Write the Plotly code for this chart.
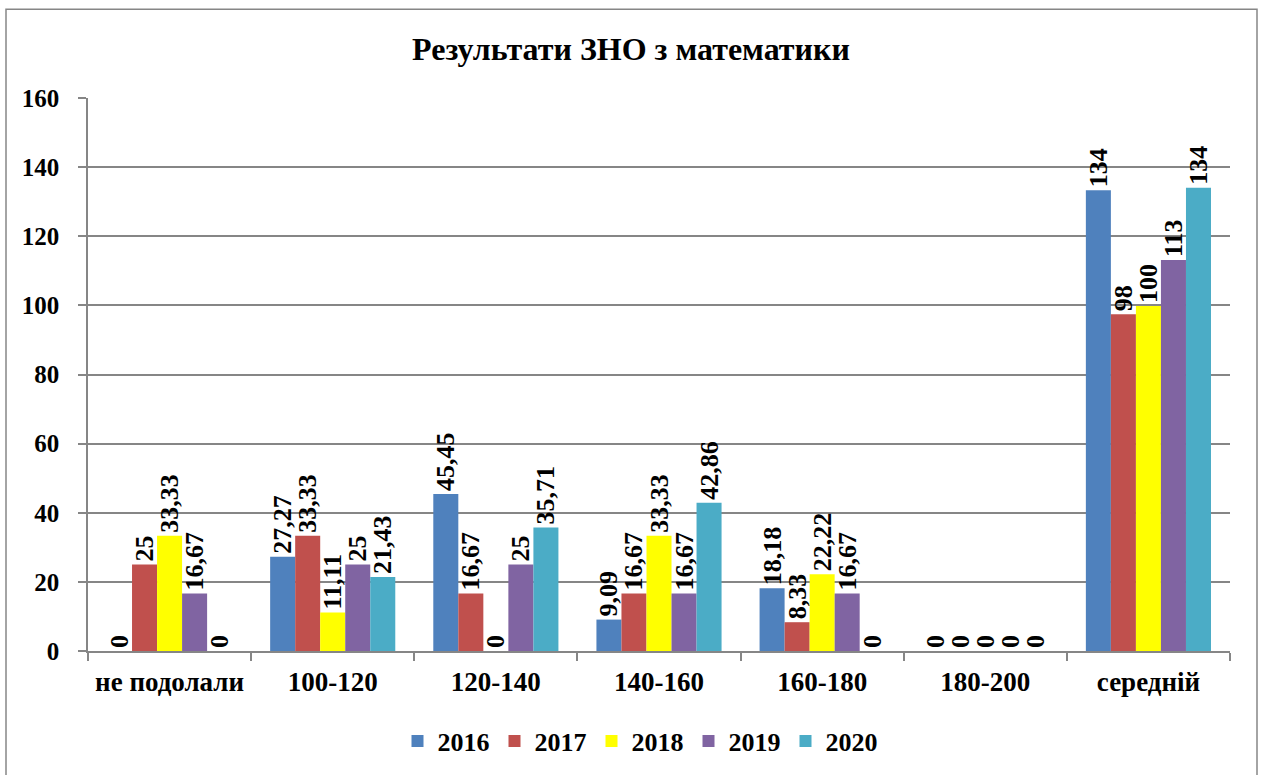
import plotly.graph_objects as go

categories = ["не подолали", "100-120", "120-140", "140-160", "160-180", "180-200", "середній"]
years = ["2016", "2017", "2018", "2019", "2020"]
v2016 = [0, 27.27, 45.45, 9.09, 18.18, 0, 133.3]
v2017 = [25, 33.33, 16.67, 16.67, 8.33, 0, 97.4]
v2018 = [33.33, 11.11, 0, 33.33, 22.22, 0, 99.8]
v2019 = [16.67, 25, 25, 16.67, 16.67, 0, 113.1]
v2020 = [0, 21.43, 35.71, 42.86, 0, 0, 134.0]
t2016 = ["0", "27,27", "45,45", "9,09", "18,18", "0", "134"]
t2017 = ["25", "33,33", "16,67", "16,67", "8,33", "0", "98"]
t2018 = ["33,33", "11,11", "0", "33,33", "22,22", "0", "100"]
t2019 = ["16,67", "25", "25", "16,67", "16,67", "0", "113"]
t2020 = ["0", "21,43", "35,71", "42,86", "0", "0", "134"]
colors = ["#4F81BD", "#C0504D", "#FFFF00", "#8064A2", "#4BACC6"]

values = [v2016, v2017, v2018, v2019, v2020]
texts = [t2016, t2017, t2018, t2019, t2020]

FONT = "'Liberation Serif', 'Times New Roman', Times, serif"
W, H = 1261, 775
L, R, T, B = 88, 31, 98, 123
pw, ph = W - L - R, H - T - B

def f(size):
    return dict(family=FONT, size=size, color="black", weight="bold")

fig = go.Figure()
for y, v, t, c in zip(years, values, texts, colors):
    fig.add_trace(go.Bar(
        name=y, x=categories, y=v, text=t,
        marker=dict(color=c, line=dict(width=0)),
        textposition="outside", textangle=-90, constraintext="none",
        cliponaxis=False,
        textfont=f(26),
    ))

def px2x(px):
    return (px - L) / pw

def py2y(py):
    return (H - B - py) / ph

fig.update_layout(
    width=W, height=H,
    margin=dict(l=L, r=R, t=T, b=B),
    paper_bgcolor="white", plot_bgcolor="white",
    barmode="group", bargap=0.233, bargroupgap=0,
    font=f(25),
    title=dict(text="Результати ЗНО з математики", x=631 / W,
               xanchor="center", y=1 - 49 / H, yanchor="middle",
               font=f(32)),
    legend=dict(orientation="h", x=px2x(640), xanchor="center", y=py2y(741), yanchor="middle",
                font=f(26), itemwidth=30, traceorder="normal"),
    showlegend=True,
    shapes=[dict(type="rect", xref="paper", yref="paper",
                 x0=px2x(6), x1=px2x(1257), y0=py2y(785), y1=py2y(9),
                 line=dict(color="#868686", width=1.5), fillcolor="rgba(0,0,0,0)", layer="below")],
)
fig.update_xaxes(
    type="category", showline=True, linecolor="#868686", linewidth=1.5,
    ticks="outside", tickson="boundaries", ticklen=8, tickcolor="#868686", tickwidth=1.5,
    tickfont=f(27), showgrid=False, ticklabelstandoff=6,
)
fig.update_yaxes(
    range=[0, 160], dtick=20, showline=True, linecolor="#868686", linewidth=1.5,
    ticks="outside", ticklen=8, tickcolor="#868686", tickwidth=1.5,
    showgrid=True, gridcolor="#868686", gridwidth=1.5, zeroline=False,
    tickfont=f(25), ticklabelstandoff=14,
)

fig.write_html("out.html", config={"displayModeBar": False},
               post_script="document.body.style.margin='0px';")
